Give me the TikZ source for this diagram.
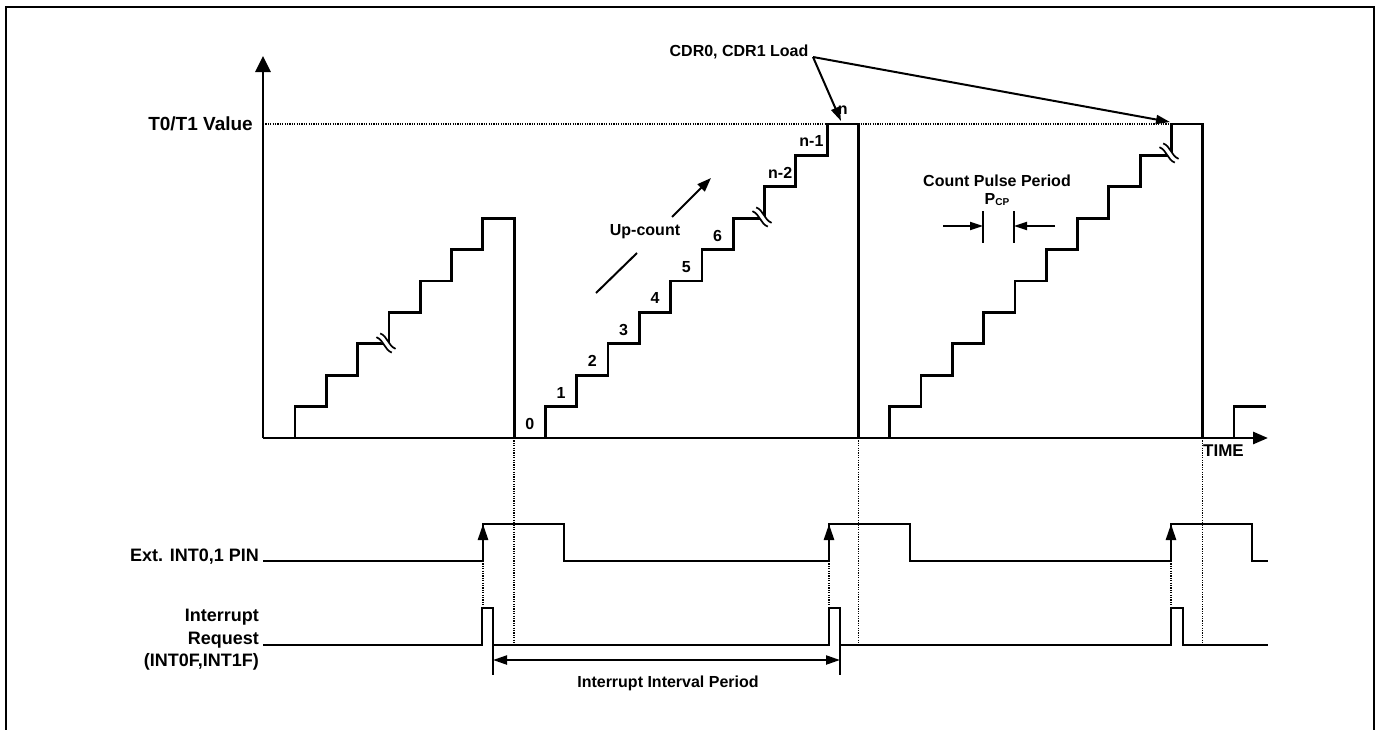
\documentclass[tikz,border=0pt]{standalone}
\usepackage{fontspec}
\setmainfont{Liberation Sans}
\usetikzlibrary{arrows.meta}
\begin{document}
\begin{tikzpicture}[x=1pt,y=-1pt,
  lbl/.style={font=\fontsize{16}{19}\selectfont\bfseries, inner sep=0pt},
  biglbl/.style={font=\fontsize{18}{22.5}\selectfont\bfseries, inner sep=0pt},
  stair/.style={line width=2.8pt},
  sig/.style={line width=1.8pt},
  dotline/.style={line width=1.3pt, dash pattern=on 1.2pt off 1.2pt},
  edgearrow/.style={line width=2.6pt, -{Triangle[width=10pt,length=16pt]}},
  callout/.style={line width=2pt, -{Triangle[width=9pt,length=14pt]}},
  dimarrow/.style={line width=1.8pt, -{Triangle[width=8pt,length=13pt]}},
  brk/.pic={
    \fill[white] (-5.8,-9.6) -- (9.6,5.8) -- (5.8,9.6) -- (-9.6,-5.8) -- cycle;
    \draw[line width=1.7pt] (-5.8,-9.6) .. controls (1.6,-6.8) and (2.2,3) .. (9.6,5.8);
    \draw[line width=1.7pt] (-9.6,-5.8) .. controls (-2.2,-3) and (-1.6,6.8) .. (5.8,9.6);
  }
]
\useasboundingbox (0,0) rectangle (1382,729);
% frame
\draw[line width=2pt] (6,745) -- (6,7) -- (1374,7) -- (1374,745);

% dotted guides
\draw[dotline] (263,124) -- (1171.4,124);
\draw[dotline] (514.1,438) -- (514.1,645);
\draw[dotline] (858.4,438) -- (858.4,645);
\draw[dotline] (1202.7,438) -- (1202.7,645);
\draw[dotline] (483,561) -- (483,608);
\draw[dotline] (829,561) -- (829,608);
\draw[dotline] (1171,561) -- (1171,608);

% axes
\draw[line width=2.8pt, -{Triangle[width=15pt,length=16pt]}] (263,438) -- (263,56);
\draw[line width=2.8pt, -{Triangle[width=12pt,length=15pt]}] (263,438) -- (1268,438);

% staircases
\draw[stair] (295,438) |- (326.3,406.6) |- (357.6,375.2) |- (388.9,343.8) |- (420.2,312.4) |- (451.5,281) |- (482.8,249.6) |- (514.1,218.2) -- (514.1,438);
\draw[stair] (545.4,438) |- (576.7,406.6) |- (608,375.2) |- (639.3,343.8) |- (670.6,312.4) |- (701.9,281) |- (733.2,249.6) |- (764.5,218.2) |- (795.8,186.8) |- (827.1,155.4) |- (858.4,124) -- (858.4,438);
\draw[stair] (889.7,438) |- (921,406.6) |- (952.3,375.2) |- (983.6,343.8) |- (1014.9,312.4) |- (1046.2,281) |- (1077.5,249.6) |- (1108.8,218.2) |- (1140.1,186.8) |- (1171.4,155.4) |- (1202.7,124) -- (1202.7,438);
\draw[stair] (1234,438) |- (1266,406.6);

% break marks
\pic at (386,343) {brk};
\pic at (762,217) {brk};
\pic at (1169,153) {brk};

% step labels
\node[lbl] (s0) at (529.75,424) {0};
\node[lbl] (s1) at (561.05,392.6) {1};
\node[lbl] (s2) at (592.35,361.2) {2};
\node[lbl] (s3) at (623.65,329.8) {3};
\node[lbl] (s4) at (654.95,298.4) {4};
\node[lbl] (s5) at (686.25,267) {5};
\node[lbl] (s6) at (717.55,235.6) {6};
\node[lbl] (sn2) at (780.15,172.8) {n-2};
\node[lbl] (sn1) at (811.45,141.4) {n-1};
\node[lbl] (sn) at (842.75,110) {n};

% labels
\node[lbl, font=\fontsize{19}{22}\selectfont\bfseries, anchor=east] (tval) at (253,124) {T0/T1 Value};
\node[lbl] (cdr) at (739,52) {CDR0, CDR1 Load};
\coordinate (cdrpt) at (813,57);
\coordinate (loadA) at (841,121);
\coordinate (loadB) at (1170,122);
\draw[callout] (cdrpt) -- (loadA);
\draw[callout] (cdrpt) -- (loadB);

\node[lbl] (up) at (645,232) {Up-count};
\coordinate (upa) at (596,293);
\coordinate (upb) at (637,253);
\coordinate (upc) at (672,217);
\coordinate (upd) at (711,178);
\draw[line width=2pt] (upa) -- (upb);
\draw[line width=2pt, -{Triangle[width=10pt,length=14pt]}] (upc) -- (upd);

\node[lbl] (cpp) at (997,181) {Count Pulse Period};
\node[lbl] (pcp) at (997,200) {P{\fontsize{10}{10}\selectfont\raisebox{-1pt}{CP}}};
\coordinate (pl1) at (983,211);
\coordinate (pl2) at (983,243);
\coordinate (pr1) at (1014,211);
\coordinate (pr2) at (1014,243);
\draw[line width=1.6pt] (pl1) -- (pl2);
\draw[line width=1.6pt] (pr1) -- (pr2);
\coordinate (pa1) at (943,226);
\coordinate (pa2) at (983,226);
\coordinate (pb1) at (1055,226);
\coordinate (pb2) at (1014,226);
\draw[dimarrow] (pa1) -- (pa2);
\draw[dimarrow] (pb1) -- (pb2);

\node[lbl, font=\fontsize{17}{19}\selectfont\bfseries, anchor=west] (time) at (1203,451) {TIME};

% bottom signals
\node[biglbl, anchor=east] (ext) at (259,557) {Ext. INT0,1 PIN};
\node[biglbl, anchor=east, align=right] (irq) at (259,640) {Interrupt\\Request\\(INT0F,INT1F)};

\draw[sig] (263,561) -- (483,561) -- (483,524) -- (564,524) -- (564,561) -- (829,561) -- (829,524) -- (910,524) -- (910,561) -- (1171,561) -- (1171,524) -- (1252,524) -- (1252,561) -- (1268,561);
\draw[edgearrow] (483,561) -- (483,524);
\draw[edgearrow] (829,561) -- (829,524);
\draw[edgearrow] (1171,561) -- (1171,524);

\draw[sig] (263,645) -- (482,645) -- (482,608) -- (493,608) -- (493,675);
\draw[sig] (493,645) -- (829,645) -- (829,608) -- (840,608) -- (840,675);
\draw[sig] (840,645) -- (1171,645) -- (1171,608) -- (1183,608) -- (1183,645) -- (1268,645);

\coordinate (iv1) at (493,660);
\coordinate (iv2) at (840,660);
\draw[line width=2.2pt, {Triangle[width=9pt,length=14pt]}-{Triangle[width=9pt,length=14pt]}] (iv1) -- (iv2);
\node[lbl] (ivp) at (668,683) {Interrupt Interval Period};
\end{tikzpicture}
\end{document}
